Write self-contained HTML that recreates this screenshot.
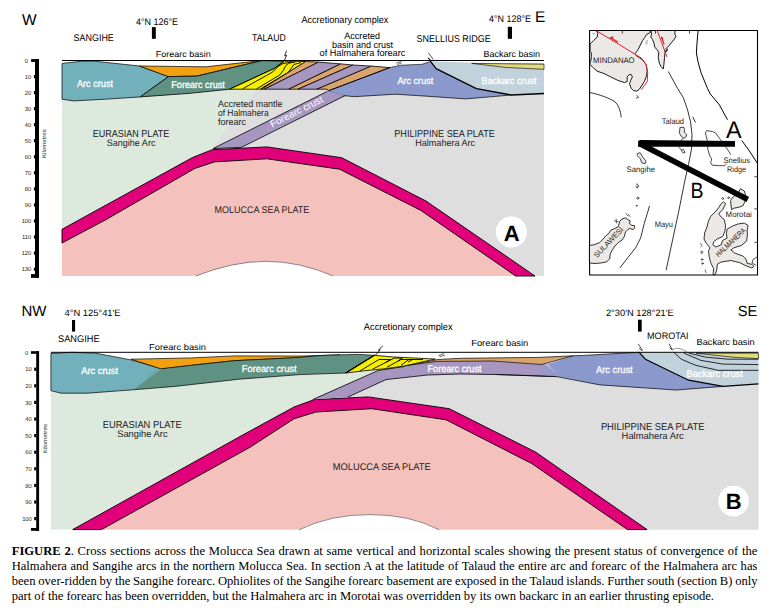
<!DOCTYPE html>
<html><head><meta charset="utf-8">
<style>
html,body{margin:0;padding:0;background:#fff;width:770px;height:615px;overflow:hidden;position:relative}
svg{position:absolute;left:0;top:0}
svg text{font-family:"Liberation Sans",sans-serif;text-rendering:geometricPrecision}
.cl{position:absolute;left:11.7px;width:745.8px;font-family:"Liberation Serif",serif;font-size:12.6px;line-height:15px;height:15px;white-space:nowrap;color:#000}
.j{text-align:justify;text-align-last:justify;white-space:normal}
</style></head><body>
<svg width="770" height="615" viewBox="0 0 770 615">
<g stroke-linejoin="round"><polygon points="62,86 254.4,86 544,86 544,276 62,276" fill="#dde9dd"/><polygon points="258,86 544,86 544,276 450,276 212.9,148.4" fill="#dedede"/><polygon points="62,243 105.3,220 194.7,168.5 214.5,161.9 266.9,158.8 339.6,169.2 420.8,210.4 515.7,276 62,276" fill="#f5c1bd"/><polygon points="62,229.3 192.5,157.5 212.3,149.7 266.9,146.9 341.7,157.7 426,201 535,276 515.7,276 420.8,210.4 339.6,169.2 266.9,158.8 214.5,161.9 194.7,168.5 105.3,220 62,243" fill="#e2007a" stroke="#000" stroke-width="0.9"/><path d="M195.9,276 Q232,261.5 266,261.3 Q300,261.5 333.1,276 Z" fill="#fff"/><path d="M195.9,276 Q232,261.5 266,261.3 Q300,261.5 333.1,276" fill="none" stroke="#444" stroke-width="0.6"/><polygon points="213,148.6 328.5,90.8 345.5,95.4 241.6,147.3" fill="#a797c0" stroke="#000" stroke-width="0.8"/><polygon points="62,63.4 80.3,61.4 94.7,61.2 139.4,66 168.5,76.6 140.3,96.9 105.6,99.2 73.6,100.9 62,99.2" fill="#72b0bc" stroke="#000" stroke-width="0.7"/><polygon points="139.4,66 206,66.8 257,61 262,60.6 196.9,76.1 168.5,76.6" fill="#f0a010" stroke="#000" stroke-width="0.7"/><polygon points="140.3,96.9 168.5,76.6 196.9,76.1 262,60.6 284.3,61.2 274.5,68.4 229.7,89.2 190,93.3" fill="#5f9283" stroke="#000" stroke-width="0.8"/><polyline points="230.8,88.9 274.1,69 283.4,62" fill="none" stroke="#000" stroke-width="1.3"/><polygon points="229.7,89.2 274.5,68.4 284.3,61.2 305.7,61.5 261.6,89.2" fill="#f7ef00" stroke="#000" stroke-width="0.8"/><polyline points="242.5,88.9 271.8,72.5 275.3,69.5 278,66.5 283,63.5 292,62" fill="none" stroke="#000" stroke-width="0.9"/><polyline points="256.6,88.9 279.9,74.9 283.4,70.2 285.8,65.5 288.7,63.2 295.1,62" fill="none" stroke="#000" stroke-width="0.9"/><polyline points="260.5,88.9 288.1,72.5 291.6,67.9 294,64.4 301,62.6" fill="none" stroke="#000" stroke-width="0.9"/><polygon points="261.6,89.2 305.7,61.5 318.6,62.1 264.4,89.2" fill="#d9a56c" stroke="#000" stroke-width="0.8"/><polygon points="264.4,89.2 318.6,62.1 340.7,63.9 288.8,89.2" fill="#a797c0" stroke="#000" stroke-width="0.8"/><polygon points="288.8,89.2 340.7,63.9 352.9,65 298,89.2" fill="#d9a56c" stroke="#000" stroke-width="0.8"/><polygon points="298,89.2 352.9,65 371.4,66.1 317,89.2" fill="#a797c0" stroke="#000" stroke-width="0.8"/><polygon points="317,89.2 371.4,66.1 390,67.6 328.5,90.8 327,89.2" fill="#d9a56c" stroke="#000" stroke-width="0.8"/><polygon points="328.5,90.8 390,67.6 401,65.2 422,64.3 430.3,61.5 436.1,68.7 476.4,88.6 511.4,95 465.8,98.9 426.8,96.2 395.2,94.2 354.3,96.7 343.6,95.6" fill="#8b99cc"/><polyline points="328.5,90.8 390,67.6" fill="none" stroke="#000" stroke-width="1"/><polyline points="390,67.6 401,65.2 422,64.3 430.3,61.5" fill="none" stroke="#000" stroke-width="0.6"/><polyline points="511.4,95 465.8,98.9 426.8,96.2 395.2,94.2 354.3,96.7 343.6,95.6" fill="none" stroke="#000" stroke-width="0.7"/><polygon points="328.5,90.8 343.6,95.6 335,95 326,92" fill="#a099c4" opacity="0.8"/><polygon points="430.3,61.2 471.7,62.8 544,63 544,93.5 511.4,95 476.4,88.6 436.1,68.7" fill="#c1d2dc"/><polygon points="471.7,63.4 544,64.2 544,69.3 506.8,67.5" fill="#e2dc7c" stroke="#000" stroke-width="0.6"/><polyline points="430.3,61.2 436.1,68.7 476.4,88.6 511.4,95 544,93.5" fill="none" stroke="#000" stroke-width="1.3"/><line x1="62" y1="60.5" x2="544" y2="60.5" stroke="#000" stroke-width="1"/><path d="M286.6,50.5 L284.6,55.8 L286.6,55.3 L284.2,61" fill="none" stroke="#000" stroke-width="0.8"/><line x1="428.5" y1="52.9" x2="433.2" y2="59.4" stroke="#000" stroke-width="0.7"/><line x1="428.2" y1="57.8" x2="430.5" y2="60.5" stroke="#000" stroke-width="1.1"/><path d="M396.3,63.2 L401.5,61.2 M397.3,64.6 L401.8,62.8" fill="none" stroke="#000" stroke-width="0.6"/><circle cx="511.4" cy="232" r="15.6" fill="#fff"/></g><text x="511.6" y="240.6" text-anchor="middle" font-weight="bold" font-size="22">A</text><rect x="35" y="59.1" width="4" height="218.7" fill="#000"/><rect x="31.1" y="59.1" width="7.9" height="2.8" fill="#000"/><rect x="31" y="274.1" width="8" height="3.7" fill="#000"/><text x="28.1" y="62.7" font-size="5.8" fill="#222" text-anchor="end" >0</text>
<rect x="33.9" y="75.0" width="1.2" height="3.2" fill="#000"/><text x="31.3" y="78.8" font-size="5.8" fill="#222" text-anchor="end" >10</text>
<rect x="33.9" y="91.0" width="1.2" height="3.2" fill="#000"/><text x="31.3" y="94.8" font-size="5.8" fill="#222" text-anchor="end" >20</text>
<rect x="33.9" y="107.1" width="1.2" height="3.2" fill="#000"/><text x="31.3" y="110.9" font-size="5.8" fill="#222" text-anchor="end" >30</text>
<rect x="33.9" y="123.1" width="1.2" height="3.2" fill="#000"/><text x="31.3" y="126.9" font-size="5.8" fill="#222" text-anchor="end" >40</text>
<rect x="33.9" y="139.1" width="1.2" height="3.2" fill="#000"/><text x="31.3" y="142.9" font-size="5.8" fill="#222" text-anchor="end" >50</text>
<rect x="33.9" y="155.2" width="1.2" height="3.2" fill="#000"/><text x="31.3" y="159.0" font-size="5.8" fill="#222" text-anchor="end" >60</text>
<rect x="33.9" y="171.2" width="1.2" height="3.2" fill="#000"/><text x="31.3" y="175.1" font-size="5.8" fill="#222" text-anchor="end" >70</text>
<rect x="33.9" y="187.3" width="1.2" height="3.2" fill="#000"/><text x="31.3" y="191.1" font-size="5.8" fill="#222" text-anchor="end" >80</text>
<rect x="33.9" y="203.4" width="1.2" height="3.2" fill="#000"/><text x="31.3" y="207.2" font-size="5.8" fill="#222" text-anchor="end" >90</text>
<rect x="33.9" y="219.4" width="1.2" height="3.2" fill="#000"/><text x="31.3" y="223.2" font-size="5.8" fill="#222" text-anchor="end" >100</text>
<rect x="33.9" y="235.4" width="1.2" height="3.2" fill="#000"/><text x="31.3" y="239.2" font-size="5.8" fill="#222" text-anchor="end" >110</text>
<rect x="33.9" y="251.5" width="1.2" height="3.2" fill="#000"/><text x="31.3" y="255.3" font-size="5.8" fill="#222" text-anchor="end" >120</text>
<rect x="33.9" y="267.6" width="1.2" height="3.2" fill="#000"/><text x="31.3" y="271.4" font-size="5.8" fill="#222" text-anchor="end" >130</text>
<text transform="translate(46,158) rotate(-90)" font-size="5.6" fill="#222" textLength="28.7" lengthAdjust="spacingAndGlyphs">Kilometres</text><g stroke-linejoin="round"><rect x="50.9" y="368" width="707.5" height="161.6" fill="#dde9dd"/><polygon points="312.6,399.6 384.5,369.6 758.4,355 758.4,529.6 600,529.6" fill="#dedede"/><polygon points="50.9,529.6 101.4,529.6 250,447.3 294,418.8 316,412 371.7,408.7 446,419.8 531.8,463.6 627.5,529.6" fill="#f5c1bd"/><polygon points="72.7,529.6 240,436.5 294,407 314.3,399.6 368.3,396.9 449.3,408.7 535.5,452 647.1,529.6 627.5,529.6 531.8,463.6 446,419.8 371.7,408.7 316,412 294,418.8 250,447.3 101.4,529.6" fill="#e2007a" stroke="#000" stroke-width="0.9"/><path d="M299,529.8 Q330,514.5 370,514.6 Q410,514.5 439.2,529.8 Z" fill="#fff"/><path d="M299,529.8 Q330,514.5 370,514.6 Q410,514.5 439.2,529.8" fill="none" stroke="#444" stroke-width="0.6"/><polygon points="312.6,399.6 378.2,370.5 404.2,366.5 438,361 492,361 545,364.5 560,377 496.1,374.5 460,374 427.5,375 386,379.6 348,397" fill="#a797c0"/><polyline points="312.6,399.6 378.2,370.5 404.2,366.5" fill="none" stroke="#000" stroke-width="0.8"/><polyline points="556.4,376.6 496.1,374.5 460,374 427.5,375 386,379.6 348,397" fill="none" stroke="#000" stroke-width="0.8"/><defs><linearGradient id="gB" x1="0" x2="1" y1="0" y2="0"><stop offset="0" stop-color="#8b99cc" stop-opacity="0"/><stop offset="1" stop-color="#8b99cc" stop-opacity="1"/></linearGradient><linearGradient id="gA" x1="0" x2="1" y1="0" y2="0"><stop offset="0" stop-color="#72b0bc" stop-opacity="1"/><stop offset="1" stop-color="#72b0bc" stop-opacity="0"/></linearGradient></defs><polygon points="548,364 573,355.8 583.4,355.4 639.2,352.3 645.4,359.2 688.6,380.2 723.1,386.4 676.2,390 600,384.9 560,377" fill="#8b99cc"/><polygon points="530,365 548,364 560,377 545,376" fill="url(#gB)"/><polyline points="573,355.8 583.4,355.4 639.2,352.3" fill="none" stroke="#000" stroke-width="0.7"/><polyline points="723.1,386.4 676.2,390 600,384.9 556.4,376.6 496.1,374.5" fill="none" stroke="#000" stroke-width="0.7"/><polygon points="639.2,352.5 758.4,352.5 758.4,383.9 723.1,386.4 688.6,380.2 645.4,359.2" fill="#c1d2dc"/><polygon points="696,353.2 758.4,353.2 758.4,358.7 733,357.2" fill="#e2dc7c" stroke="#000" stroke-width="0.6"/><polyline points="673.8,352.3 681.2,359.2 696,365.4 718.2,370.3 758.4,370.3" fill="none" stroke="#000" stroke-width="0.8"/><polyline points="683.6,353 700.9,360.4 723.1,364.1 758.4,364.6" fill="none" stroke="#000" stroke-width="0.8"/><polyline points="688.6,353 705.8,357.2 728,359.2 758.4,359.2" fill="none" stroke="#000" stroke-width="0.8"/><polyline points="639.2,352.3 645.4,359.2 688.6,380.2 723.1,386.4 758.4,383.9" fill="none" stroke="#000" stroke-width="1.2"/><polygon points="404.2,366 438,359.5 460,358.3 539.7,357.4 573,355.8 541.8,364.5 492,361 436.6,361.4" fill="#d9a56c" stroke="#000" stroke-width="0.7"/><polygon points="50.9,353.5 72,352.3 95.6,353.2 131.1,359.9 161.5,368.7 132.8,389.8 87.2,393.2 61,393.2 50.9,390.6" fill="#72b0bc"/><polyline points="161.5,368.7 131.1,359.9 95.6,353.2 72,352.3 50.9,353.5 50.9,390.6 61,393.2 87.2,393.2 132.8,389.8" fill="none" stroke="#000" stroke-width="0.7"/><polygon points="131.1,359.2 191.4,357.9 234.3,355.9 302.9,356 340,355 323.8,355.6 291.4,357.9 234.3,360.7 194.3,365 161.5,369" fill="#f0a010" stroke="#000" stroke-width="0.7"/><polygon points="161.5,368.7 194.3,365 234.3,360.7 291.4,357.9 323.8,355.3 357.5,354.4 374.4,355.3 345.7,373 300,374.6 239.2,379.2 175,386.4 132.8,389.8" fill="#5f9283"/><polyline points="161.5,368.7 194.3,365 234.3,360.7 291.4,357.9 323.8,355.3 357.5,354.4 374.4,355.3 345.7,373 300,374.6 239.2,379.2 175,386.4 132.8,389.8" fill="none" stroke="#000" stroke-width="0.7"/><polygon points="132.8,389.8 161.5,368.7 152,372 140,386" fill="#68a09e" opacity="0.6"/><polygon points="345.7,373 374.4,355.3 392.5,356.9 430.1,358.8 435.3,359 404.2,366 384.5,368.8 364.3,370.8" fill="#f7ef00" stroke="#000" stroke-width="0.8"/><polyline points="359.5,371.2 379,359.5 390.6,359.5 386,362" fill="none" stroke="#000" stroke-width="0.9"/><polyline points="372.5,369.2 394.5,358 402.3,358.2 398,361" fill="none" stroke="#000" stroke-width="0.9"/><polyline points="386.8,367.3 401,359.5 412.7,359.5 408,362" fill="none" stroke="#000" stroke-width="0.9"/><polyline points="401,365.3 408.8,359.5 423,359.5" fill="none" stroke="#000" stroke-width="0.9"/><polyline points="345.7,373 374.4,355.3" fill="none" stroke="#000" stroke-width="1.2"/><line x1="50.9" y1="352.3" x2="758.4" y2="352.3" stroke="#000" stroke-width="1"/><path d="M382.7,345.8 L378.5,350.2 L380.3,349.8 L375.2,355.4" fill="none" stroke="#000" stroke-width="0.8"/><path d="M438.5,355.5 L444,353.5 M439.5,356.8 L445,355" fill="none" stroke="#000" stroke-width="0.6"/><path d="M638.2,343.9 L642.7,350.7 M639.1,348 L641.8,350.7" fill="none" stroke="#000" stroke-width="0.7"/><path d="M669.1,343.9 L672.7,350.3 M669.8,347.5 L672,350" fill="none" stroke="#000" stroke-width="0.7"/><path d="M672.7,349.4 Q678.2,346 687.3,352.1" fill="none" stroke="#333" stroke-width="0.5"/><circle cx="733.6" cy="501.1" r="15.3" fill="#fff"/></g><text x="733.8" y="509.4" text-anchor="middle" font-weight="bold" font-size="22">B</text><rect x="36.2" y="351.2" width="2.9" height="179.6" fill="#000"/><rect x="31" y="351.2" width="8" height="2.6" fill="#000"/><rect x="31" y="528" width="8" height="2.8" fill="#000"/><text x="28.2" y="354.8" font-size="5.8" fill="#222" text-anchor="end" >0</text>
<rect x="34.2" y="367.6" width="2" height="3.2" fill="#000"/><text x="31.8" y="371.4" font-size="5.8" fill="#222" text-anchor="end" >10</text>
<rect x="34.2" y="384.2" width="2" height="3.2" fill="#000"/><text x="31.8" y="388.0" font-size="5.8" fill="#222" text-anchor="end" >20</text>
<rect x="34.2" y="400.8" width="2" height="3.2" fill="#000"/><text x="31.8" y="404.6" font-size="5.8" fill="#222" text-anchor="end" >30</text>
<rect x="34.2" y="417.4" width="2" height="3.2" fill="#000"/><text x="31.8" y="421.2" font-size="5.8" fill="#222" text-anchor="end" >40</text>
<rect x="34.2" y="434.0" width="2" height="3.2" fill="#000"/><text x="31.8" y="437.8" font-size="5.8" fill="#222" text-anchor="end" >50</text>
<rect x="34.2" y="450.6" width="2" height="3.2" fill="#000"/><text x="31.8" y="454.4" font-size="5.8" fill="#222" text-anchor="end" >60</text>
<rect x="34.2" y="467.2" width="2" height="3.2" fill="#000"/><text x="31.8" y="471.0" font-size="5.8" fill="#222" text-anchor="end" >70</text>
<rect x="34.2" y="483.8" width="2" height="3.2" fill="#000"/><text x="31.8" y="487.6" font-size="5.8" fill="#222" text-anchor="end" >80</text>
<rect x="34.2" y="500.4" width="2" height="3.2" fill="#000"/><text x="31.8" y="504.2" font-size="5.8" fill="#222" text-anchor="end" >90</text>
<rect x="34.2" y="517.0" width="2" height="3.2" fill="#000"/><text x="31.8" y="520.8" font-size="5.8" fill="#222" text-anchor="end" >100</text>
<text transform="translate(46.6,453.3) rotate(-90)" font-size="5.6" fill="#222" textLength="29.3" lengthAdjust="spacingAndGlyphs">Kilometres</text><g stroke-linejoin="round" stroke-linecap="round"><path d="M596.5,30.5 L650.0,30.5 L650.3,32.6 L646.8,34.3 L644.6,37.7 L642.6,40.5 L640.3,45.1 L638.1,49.6 L635.2,53.6 L635.8,55.3 L639.2,57.6 L642.6,59.9 L646.0,64.4 L647.2,70.1 L646.6,75.8 L644.3,81.5 L641.5,86.0 L639.2,89.4 L636.9,91.1 L633.5,90.6 L631.2,88.3 L629.5,83.7 L630.7,80.3 L632.4,76.9 L631.2,74.6 L629.0,74.6 L627.2,76.9 L627.2,81.5 L624.4,82.6 L617.6,80.3 L610.8,76.9 L603.9,73.5 L597.1,71.2 L592.6,67.2 L590.0,64.4 L590.0,62.1 L590.8,61.0 L591.4,56.4 L591.2,52.5 L590.0,51.3 L590.0,43.4 L590.8,43.4 L593.7,40.5 L597.1,37.1 L597.7,33.7 Z" fill="#ebe8e6" stroke="#000" stroke-width="0.9"/><path d="M651.5,30.5 L675.3,30.5 L674.7,33.7 L675.9,36.5 L674.2,39.4 L671.3,42.8 L668.5,46.2 L666.8,47.9 L667.3,49.6 L665.1,52.0 L664.5,57.6 L663.9,64.4 L663.3,69.0 L661.1,66.7 L659.4,63.3 L658.2,57.6 L658.8,52.5 L657.1,49.6 L654.8,47.4 L654.2,43.9 L652.5,39.4 L650.8,37.1 L651.4,34.3 Z" fill="#ebe8e6" stroke="#000" stroke-width="0.9"/><rect x="589.6" y="30.5" width="167.9" height="244.5" fill="none" stroke="#000" stroke-width="1.1"/><path d="M592,33.5 L594.5,33 L593.5,35.2" fill="none" stroke="#888" stroke-width="0.6"/><path d="M646.5,40 L645.8,44 L647,44.5 L647.5,40.5" fill="none" stroke="#999" stroke-width="0.6"/><polyline points="596.5,30.8 616.4,42.8 635.8,54.7 641.5,58.1 646,64.4 647.7,72.4 647.2,81.5 641.5,89.4" fill="none" stroke="#e8202a" stroke-width="1"/><polyline points="610.5,37.8 617.6,41.9" fill="none" stroke="#e8202a" stroke-width="1.3"/><path d="M609.2,37.3 L613.5,36.2 L612.8,39.6 Z" fill="#e8202a"/><polyline points="657.1,30.3 666.8,56.5" fill="none" stroke="#e8202a" stroke-width="1"/><polyline points="661.9,37.6 663.9,43.9" fill="none" stroke="#e8202a" stroke-width="1.3"/><path d="M661.3,36.2 L663.6,38.6 L660.9,39.3 Z" fill="#e8202a"/><path d="M665.5,49 L667.5,50.5 L666.2,52 L664.8,50.5" fill="none" stroke="#000" stroke-width="0.7"/><path d="M589.8,92.5 C600,94.5 610,98.5 614.9,101.7 C618.5,105 620.7,111 621.2,116.9" fill="none" stroke="#000" stroke-width="0.8"/><path d="M698.1,30.8 L697,42.8 L696.4,53 L698.1,62.2 L701.2,73.2 L707.7,88.8 L710.3,94 L719.5,105 L724.9,115 L727.3,119.4" fill="none" stroke="#000" stroke-width="1"/><path d="M742,140.9 L748.8,150.1 L757.1,162.8" fill="none" stroke="#000" stroke-width="1"/><path d="M668.5,71.8 L677.8,88.8 L683.3,97.5 L687.6,110 L690.5,121.7 L692,134.4 L691.5,149 L688.5,164.6 L685,180 L679,210 L666.2,269.8" fill="none" stroke="#000" stroke-width="0.8"/><path d="M692.9,117.3 L695.4,122.2" fill="none" stroke="#000" stroke-width="0.8"/><path d="M649.5,206.2 L644.2,223.7 L640.7,237.8 L636,247.2 L627.8,257.7 L620.2,267.6" fill="none" stroke="#000" stroke-width="0.8"/><path d="M730.7,154.5 L728.3,150.6 L725.9,147.2 L721,140.4 L715.6,133 L712.7,131.6 L706.8,130.6 L705.4,133 L707.3,140.4 L707.8,149.1 L709.8,156 L711.7,158.9 L710.7,162.8 L712.2,165.2 L719.5,165.7 L724.4,165.7 L726.3,164.3" fill="none" stroke="#000" stroke-width="0.7"/><path d="M680.2,127.6 L683.7,127.1 L684.6,129.5 L684.1,132.0 L686.6,134.4 L686.1,136.8 L683.7,138.3 L681.2,136.3 L679.3,132.9 L679.8,129.5 Z" fill="#ebe8e6" stroke="#000" stroke-width="0.7"/><path d="M683.2,138.3 L680.2,141.2" fill="none" stroke="#000" stroke-width="0.7"/><path d="M678.8,147.1 L681.5,150 L683.5,149.5 L685.1,152.5 L683,153 L681.5,150.5" fill="none" stroke="#000" stroke-width="0.7"/><path d="M637.6,153.6 L640.1,152.7 L642.7,157.0 L646.0,161.2 L645.2,163.7 L641.8,162.9 L640.1,158.6 L637.6,156.1 Z" fill="#ebe8e6" stroke="#000" stroke-width="0.7"/><path d="M636.5,184 C639,184 639.5,187.5 637,187.8 C635.5,187.5 636,185.5 637.5,186" fill="none" stroke="#000" stroke-width="0.7"/><circle cx="637.8" cy="198.2" r="1" fill="none" stroke="#000" stroke-width="0.6"/><circle cx="636.8" cy="205.8" r="0.8" fill="#000"/><path d="M637,95.5 L638.5,97.5 L636.5,98" fill="none" stroke="#000" stroke-width="0.7"/><path d="M589.8,245.4 L593.9,244.8 L599.7,242.5 L603.2,239.0 L605.6,236.0 L609.1,233.1 L610.8,230.2 L614.9,228.4 L618.4,226.7 L619.6,221.4 L622.0,219.0 L625.5,217.9 L627.8,219.6 L630.2,220.8 L629.6,223.7 L631.9,225.5 L634.3,225.5 L634.8,227.8 L633.1,229.6 L629.6,228.4 L627.8,229.6 L625.5,231.9 L624.3,236.6 L622.0,240.1 L618.4,242.5 L614.9,246.0 L612.6,249.5 L610.2,254.2 L609.7,258.9 L606.7,261.8 L600.9,263.0 L595.0,263.5 L589.8,263.0 Z" fill="#ebe8e6" stroke="#000" stroke-width="0.8"/><path d="M616.1,219 L616.5,223 M614.5,221 L618,221.5" fill="none" stroke="#000" stroke-width="0.6"/><path d="M626,213.5 L628,216 M628.5,214.5 L630,216.5" fill="none" stroke="#000" stroke-width="0.6"/><path d="M724.1,202.2 L725.6,203.7 L722.7,209.7 L719.7,212.7 L718.9,214.1 L721.2,217.1 L724.1,219.4 L725.6,225.4 L724.9,231.3 L722.7,236.6 L717.4,238.8 L713.7,241.8 L712.9,244.8 L715.9,247.0 L721.2,244.8 L722.7,240.3 L727.1,238.1 L726.4,233.6 L727.1,229.1 L732.4,226.1 L738.3,223.9 L744.3,223.1 L748.1,225.4 L747.3,229.8 L747.3,235.8 L746.6,241.1 L741.3,245.5 L733.9,247.8 L730.9,250.0 L734.6,253.0 L742.8,256.0 L745.8,259.0 L747.3,263.5 L751.8,264.2 L754.0,266.5 L751.8,268.0 L745.8,265.7 L739.8,262.7 L730.9,260.5 L721.2,262.0 L717.4,264.2 L716.7,270.2 L715.2,274.7 L713.0,274.7 L713.7,268.7 L710.7,262.7 L709.2,256.7 L708.5,250.8 L710.0,247.8 L706.2,243.3 L704.0,238.8 L704.7,232.8 L707.0,226.9 L708.5,220.9 L710.7,216.4 L715.2,211.9 L718.9,207.4 L721.2,203.7 Z" fill="#ebe8e6" stroke="#000" stroke-width="0.8"/><path d="M730.9,199.9 L733.1,197.0 L738.3,192.5 L740.6,188.7 L744.3,191.0 L745.8,195.5 L745.1,201.4 L742.8,205.9 L738.3,207.4 L733.9,208.2 L731.6,209.7 L730.9,204.4 Z" fill="#ebe8e6" stroke="#000" stroke-width="0.8"/><circle cx="722.7" cy="198.5" r="0.9" fill="none" stroke="#000" stroke-width="0.6"/><circle cx="728.6" cy="197.7" r="0.9" fill="none" stroke="#000" stroke-width="0.6"/><path d="M700.5,243.5 L702,245.5 L700.5,247 M701.5,251 C703.5,250.5 703.5,254 701.5,253.5 Z" fill="none" stroke="#000" stroke-width="0.6"/><circle cx="702" cy="259.5" r="0.8" fill="none" stroke="#000" stroke-width="0.6"/><circle cx="702.5" cy="263.5" r="0.8" fill="none" stroke="#000" stroke-width="0.6"/><path d="M705,270 L706,272.5" fill="none" stroke="#000" stroke-width="0.6"/><path d="M757,257 L753,259.5 L752,263 L755.5,265" fill="none" stroke="#000" stroke-width="0.7"/><polygon points="638.1,140.9 640.1,140.1 735,140.9 735,146.8 638.1,146.8" fill="#000"/><line x1="639.5" y1="143.5" x2="747.8" y2="199.5" stroke="#000" stroke-width="5.8" stroke-linecap="butt"/><line x1="622.3" y1="30.5" x2="622.3" y2="33.3" stroke="#000" stroke-width="0.7"/><line x1="655.5" y1="30.5" x2="655.5" y2="33.3" stroke="#000" stroke-width="0.7"/><line x1="689.5" y1="30.5" x2="689.5" y2="33.3" stroke="#000" stroke-width="0.7"/><line x1="757.5" y1="176.7" x2="754.7" y2="176.7" stroke="#000" stroke-width="0.7"/><line x1="757.5" y1="208.9" x2="754.7" y2="208.9" stroke="#000" stroke-width="0.7"/><line x1="757.5" y1="242.3" x2="754.7" y2="242.3" stroke="#000" stroke-width="0.7"/></g><text x="22" y="25.2" font-size="15.5" fill="#000" >W</text>
<text x="136" y="24.7" font-size="9.55" fill="#000" textLength="42.0" lengthAdjust="spacingAndGlyphs" >4°N 126°E</text>
<rect x="151.9" y="27.1" width="3.9" height="11.7" fill="#000"/>
<text x="73.6" y="41.1" font-size="9.66" fill="#000" textLength="40.2" lengthAdjust="spacingAndGlyphs" >SANGIHE</text>
<text x="252" y="41.4" font-size="9.97" fill="#000" textLength="33.8" lengthAdjust="spacingAndGlyphs" >TALAUD</text>
<text x="301.4" y="22.7" font-size="9.77" fill="#000" textLength="87.0" lengthAdjust="spacingAndGlyphs" >Accretionary complex</text>
<text x="344.3" y="39.3" font-size="9.45" fill="#000" textLength="35.7" lengthAdjust="spacingAndGlyphs" >Accreted</text>
<text x="332" y="47.9" font-size="9.45" fill="#000" textLength="61.0" lengthAdjust="spacingAndGlyphs" >basin and crust</text>
<text x="319.6" y="56.4" font-size="9.45" fill="#000" textLength="85.7" lengthAdjust="spacingAndGlyphs" >of Halmahera forearc</text>
<text x="416.6" y="41.5" font-size="9.97" fill="#000" textLength="74.1" lengthAdjust="spacingAndGlyphs" >SNELLIUS RIDGE</text>
<text x="489" y="21.6" font-size="9.55" fill="#000" textLength="42.0" lengthAdjust="spacingAndGlyphs" >4°N 128°E</text>
<rect x="507.8" y="26.8" width="4.2" height="12" fill="#000"/>
<text x="535" y="21.6" font-size="15.4" fill="#000" >E</text>
<text x="483.4" y="57.2" font-size="8.82" fill="#000" textLength="56.6" lengthAdjust="spacingAndGlyphs" >Backarc basin</text>
<text x="155.8" y="56.75" font-size="8.61" fill="#000" textLength="55.0" lengthAdjust="spacingAndGlyphs" >Forearc basin</text>
<text x="77" y="86.6" font-size="10.08" fill="#fff" textLength="36.0" lengthAdjust="spacingAndGlyphs"  stroke="#fff" stroke-width="0.3">Arc crust</text>
<text x="171.3" y="87.5" font-size="9.77" fill="#fff" textLength="53.5" lengthAdjust="spacingAndGlyphs"  stroke="#fff" stroke-width="0.3">Forearc crust</text>
<text x="218" y="106.8" font-size="9.45" fill="#222" textLength="64.5" lengthAdjust="spacingAndGlyphs" >Accreted mantle</text>
<text x="218" y="115.8" font-size="9.45" fill="#222" textLength="50.6" lengthAdjust="spacingAndGlyphs" >of Halmahera</text>
<text x="218" y="124.5" font-size="9.45" fill="#222" textLength="28.0" lengthAdjust="spacingAndGlyphs" >forearc</text>
<text transform="translate(296.5,111.5) rotate(-27)" text-anchor="middle" font-size="10" fill="#fff" y="3.5" textLength="58" lengthAdjust="spacingAndGlyphs">Forearc crust</text>
<text x="397.5" y="84.1" font-size="9.66" fill="#fff" textLength="35.7" lengthAdjust="spacingAndGlyphs"  stroke="#fff" stroke-width="0.3">Arc crust</text>
<text x="481.6" y="84.1" font-size="9.66" fill="#fff" textLength="55.0" lengthAdjust="spacingAndGlyphs"  stroke="#fff" stroke-width="0.3">Backarc crust</text>
<text x="92.7" y="137.2" font-size="10.08" fill="#222" textLength="76.6" lengthAdjust="spacingAndGlyphs" >EURASIAN PLATE</text>
<text x="106.8" y="145.8" font-size="9.45" fill="#222" textLength="48.6" lengthAdjust="spacingAndGlyphs" >Sangihe Arc</text>
<text x="394.3" y="137.2" font-size="10.08" fill="#222" textLength="100.5" lengthAdjust="spacingAndGlyphs" >PHILIPPINE SEA PLATE</text>
<text x="415.3" y="146" font-size="9.45" fill="#222" textLength="59.7" lengthAdjust="spacingAndGlyphs" >Halmahera Arc</text>
<text x="214.5" y="212.6" font-size="9.66" fill="#222" textLength="94.7" lengthAdjust="spacingAndGlyphs" >MOLUCCA SEA PLATE</text>
<text x="21.5" y="316" font-size="15" fill="#000" >NW</text>
<text x="64.5" y="316.3" font-size="9.24" fill="#000" textLength="56.1" lengthAdjust="spacingAndGlyphs" >4°N 125°41'E</text>
<rect x="72" y="320" width="3.1" height="11.6" fill="#000"/>
<text x="58" y="341.8" font-size="9.66" fill="#000" textLength="41.6" lengthAdjust="spacingAndGlyphs" >SANGIHE</text>
<text x="149" y="350.4" font-size="8.61" fill="#000" textLength="57.0" lengthAdjust="spacingAndGlyphs" >Forearc basin</text>
<text x="363.8" y="329.9" font-size="9.77" fill="#000" textLength="88.9" lengthAdjust="spacingAndGlyphs" >Accretionary complex</text>
<text x="471.2" y="346.4" font-size="8.82" fill="#000" textLength="57.1" lengthAdjust="spacingAndGlyphs" >Forearc basin</text>
<text x="605.9" y="316" font-size="9.24" fill="#000" textLength="67.9" lengthAdjust="spacingAndGlyphs" >2°30'N 128°21'E</text>
<rect x="638" y="319.7" width="3.7" height="11.9" fill="#000"/>
<text x="737.8" y="316" font-size="14.6" fill="#000" >SE</text>
<text x="647.1" y="339" font-size="9.45" fill="#000" textLength="41.5" lengthAdjust="spacingAndGlyphs" >MOROTAI</text>
<text x="696.5" y="344.9" font-size="8.82" fill="#000" textLength="58.2" lengthAdjust="spacingAndGlyphs" >Backarc basin</text>
<text x="81.3" y="374.3" font-size="9.87" fill="#fff" textLength="36.7" lengthAdjust="spacingAndGlyphs"  stroke="#fff" stroke-width="0.3">Arc crust</text>
<text x="241.8" y="371.7" font-size="9.77" fill="#fff" textLength="54.8" lengthAdjust="spacingAndGlyphs"  stroke="#fff" stroke-width="0.3">Forearc crust</text>
<text x="427.5" y="371.8" font-size="9.77" fill="#fff" textLength="54.1" lengthAdjust="spacingAndGlyphs"  stroke="#fff" stroke-width="0.3">Forearc crust</text>
<text x="596" y="373.3" font-size="9.77" fill="#fff" textLength="36.6" lengthAdjust="spacingAndGlyphs"  stroke="#fff" stroke-width="0.3">Arc crust</text>
<text x="686.6" y="376.5" font-size="9.77" fill="#fff" textLength="56.2" lengthAdjust="spacingAndGlyphs"  stroke="#fff" stroke-width="0.3">Backarc crust</text>
<text x="102.7" y="428.2" font-size="10.08" fill="#222" textLength="79.1" lengthAdjust="spacingAndGlyphs" >EURASIAN PLATE</text>
<text x="117.2" y="436.9" font-size="9.45" fill="#222" textLength="50.4" lengthAdjust="spacingAndGlyphs" >Sangihe Arc</text>
<text x="332.8" y="469.9" font-size="9.66" fill="#222" textLength="97.9" lengthAdjust="spacingAndGlyphs" >MOLUCCA SEA PLATE</text>
<text x="600.9" y="429.8" font-size="10.08" fill="#222" textLength="103.6" lengthAdjust="spacingAndGlyphs" >PHILIPPINE SEA PLATE</text>
<text x="621.6" y="438.9" font-size="9.45" fill="#222" textLength="62.2" lengthAdjust="spacingAndGlyphs" >Halmahera Arc</text>
<text x="593.1" y="62.7" font-size="8.09" fill="#222" textLength="41.5" lengthAdjust="spacingAndGlyphs" >MINDANAO</text>
<text x="661.7" y="124.4" font-size="8.09" fill="#222" textLength="22.4" lengthAdjust="spacingAndGlyphs" >Talaud</text>
<text x="626.6" y="171.6" font-size="8.09" fill="#222" textLength="28.4" lengthAdjust="spacingAndGlyphs" >Sangihe</text>
<text x="723.4" y="163" font-size="8.09" fill="#222" textLength="26.6" lengthAdjust="spacingAndGlyphs" >Snellius</text>
<text x="727.1" y="171.6" font-size="8.09" fill="#222" textLength="18.9" lengthAdjust="spacingAndGlyphs" >Ridge</text>
<text x="654.7" y="227.1" font-size="8.09" fill="#222" textLength="18.3" lengthAdjust="spacingAndGlyphs" >Mayu</text>
<text x="725.6" y="216.7" font-size="8.09" fill="#222" textLength="26.2" lengthAdjust="spacingAndGlyphs" >Morotai</text>
<text x="725.9" y="137.9" font-size="24.15" fill="#000" textLength="15.6" lengthAdjust="spacingAndGlyphs" >A</text>
<text x="690.4" y="197.6" font-size="22.05" fill="#000" textLength="13.0" lengthAdjust="spacingAndGlyphs" >B</text>
<text transform="translate(608.5,242.2) rotate(-46.5)" text-anchor="middle" font-size="7.6" fill="#222" y="2.7" textLength="39" lengthAdjust="spacingAndGlyphs">SULAWESI</text>
<text transform="translate(730.5,242.2) rotate(-43.5)" text-anchor="middle" font-size="7.6" fill="#222" y="2.7" textLength="38" lengthAdjust="spacingAndGlyphs">HALMAHERA</text>
</svg>
<div class="cl" style="top:543.7px;word-spacing:0.6px"><b>FIGURE 2</b>. Cross sections across the Molucca Sea drawn at same vertical and horizontal scales showing the present status of convergence of the</div>
<div class="cl" style="top:558.7px;word-spacing:0.36px">Halmahera and Sangihe arcs in the northern Molucca Sea. In section A at the latitude of Talaud the entire arc and forearc of the Halmahera arc has</div>
<div class="cl" style="top:574.2px;word-spacing:-0.37px">been over-ridden by the Sangihe forearc. Ophiolites of the Sangihe forearc basement are exposed in the Talaud islands. Further south (section B) only</div>
<div class="cl" style="top:589.2px;word-spacing:-0.07px">part of the forearc has been overridden, but the Halmahera arc in Morotai was overridden by its own backarc in an earlier thrusting episode.</div>
</body></html>
